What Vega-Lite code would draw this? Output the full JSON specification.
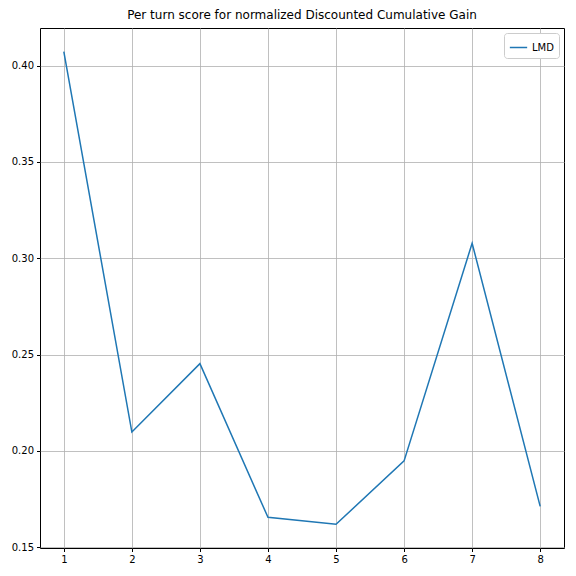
{
  "$schema": "https://vega.github.io/schema/vega-lite/v6.json",
  "width": 524,
  "height": 520,
  "autosize": {"type": "none"},
  "padding": {"left": 40, "top": 28, "right": 12, "bottom": 28},
  "background": "white",
  "title": {"text": "Per turn score for normalized Discounted Cumulative Gain", "font": "DejaVu Sans", "fontSize": 12, "fontWeight": "normal", "color": "black", "offset": 6},
  "config": {
    "view": {"stroke": "black", "strokeWidth": 1},
    "axis": {"labelFont": "DejaVu Sans", "labelFontSize": 10, "labelColor": "black", "tickColor": "black", "domain": false, "gridColor": "#b0b0b0", "gridWidth": 0.8, "tickSize": 3.5, "labelPadding": 3}
  },
  "data": {"values": [
    {"turn": 1, "score": 0.4072, "series": "LMD"},
    {"turn": 2, "score": 0.2098, "series": "LMD"},
    {"turn": 3, "score": 0.2453, "series": "LMD"},
    {"turn": 4, "score": 0.1655, "series": "LMD"},
    {"turn": 5, "score": 0.1619, "series": "LMD"},
    {"turn": 6, "score": 0.1948, "series": "LMD"},
    {"turn": 7, "score": 0.3078, "series": "LMD"},
    {"turn": 8, "score": 0.1712, "series": "LMD"}
  ]},
  "mark": {"type": "line", "strokeWidth": 1.5},
  "encoding": {
    "x": {"field": "turn", "type": "quantitative", "scale": {"domain": [0.65, 8.35], "nice": false, "zero": false}, "axis": {"title": null, "values": [1,2,3,4,5,6,7,8], "format": "d"}},
    "y": {"field": "score", "type": "quantitative", "scale": {"domain": [0.1496, 0.4195], "nice": false, "zero": false}, "axis": {"title": null, "values": [0.15,0.2,0.25,0.3,0.35,0.4], "format": ".2f"}},
    "color": {"field": "series", "type": "nominal", "scale": {"range": ["#1f77b4"]}, "legend": {"title": null, "orient": "top-right", "symbolType": "stroke", "symbolStrokeWidth": 1.5, "symbolSize": 300, "labelFont": "DejaVu Sans", "labelFontSize": 10, "labelColor": "black", "strokeColor": "#cccccc", "fillColor": "white", "padding": 5, "cornerRadius": 3, "offset": 5}}
  }
}
